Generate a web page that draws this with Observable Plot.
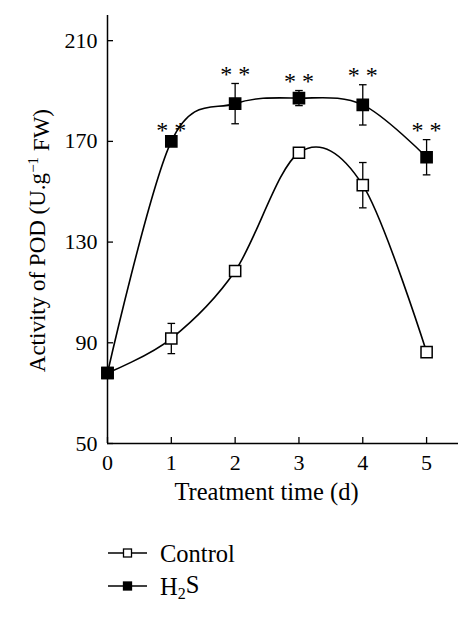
<!DOCTYPE html>
<html><head><meta charset="utf-8">
<script src="https://cdn.jsdelivr.net/npm/d3@7"></script>
<script src="https://cdn.jsdelivr.net/npm/@observablehq/plot@0.6"></script>
<style>
body{margin:0;background:#fff;font-family:"Liberation Serif","Times New Roman",serif;}
#chart svg{display:block;}
</style></head><body><div id="chart"></div>
<script>
const days = [0, 1, 2, 3, 4, 5];
const controlMean = [78, 91.7, 118.5, 165.5, 152.6, 86.3];
const controlErr = [1.2, 6, 1.5, 2, 9, 1];
const h2sMean = [78, 170, 185, 187.2, 184.5, 163.7];
const h2sErr = [1.2, 1, 8, 3, 8, 7];
const h2sSignif = ["", "**", "**", "**", "**", "**"];
const xTicks = [0, 1, 2, 3, 4, 5];
const yTicks = [50, 90, 130, 170, 210];
const xLabel = "Treatment time (d)";
const yLabelParts = ["Activity of POD (U.g", "\u22121", " FW)"];
const legendNames = ["Control", "H2S"];

const control = days.map((d, i) => ({day: d, mean: controlMean[i], err: controlErr[i]}));
const h2s = days.map((d, i) => ({day: d, mean: h2sMean[i], err: h2sErr[i], sig: h2sSignif[i]}));

const capSymbol = {draw(ctx, size) { const w = 3.8; ctx.moveTo(-w, 0); ctx.lineTo(w, 0); }};
const font = '"Liberation Serif","Times New Roman",serif';

function errMarks(data) {
  return [
    Plot.link(data, {x1: "day", x2: "day", y1: d => d.mean - d.err, y2: d => d.mean + d.err, stroke: "black", strokeWidth: 1.3}),
    Plot.dot(data, {x: "day", y: d => d.mean + d.err, symbol: capSymbol, r: 4, stroke: "black", strokeWidth: 1.3}),
    Plot.dot(data, {x: "day", y: d => d.mean - d.err, symbol: capSymbol, r: 4, stroke: "black", strokeWidth: 1.3})
  ];
}

const plot = Plot.plot({
  width: 474,
  height: 520,
  marginLeft: 107,
  marginRight: 16,
  marginTop: 15,
  marginBottom: 77,
  style: {fontFamily: font, color: "black", background: "white"},
  x: {domain: [0, 5.5]},
  y: {domain: [50, 220]},
  marks: [
    Plot.ruleX([0], {stroke: "black", strokeWidth: 1.5}),
    Plot.ruleY([50], {stroke: "black", strokeWidth: 1.5}),
    Plot.axisY(yTicks, {tickSize: -6, tickPadding: 16, fontSize: 22, label: null, strokeWidth: 1.3}),
    Plot.axisX(xTicks, {tickSize: -6, tickPadding: 17, fontSize: 22, label: null, strokeWidth: 1.3}),
    ...errMarks(control),
    ...errMarks(h2s),
    Plot.line(control, {x: "day", y: "mean", curve: "cardinal", tension: 0, stroke: "black", strokeWidth: 1.6}),
    Plot.line(h2s, {x: "day", y: "mean", curve: "cardinal", tension: 0, stroke: "black", strokeWidth: 1.6}),
    Plot.dot(control, {x: "day", y: "mean", symbol: "square", r: 6.3, fill: "white", stroke: "black", strokeWidth: 1.5}),
    Plot.dot(h2s, {x: "day", y: "mean", symbol: "square", r: 6.3, fill: "black", stroke: "black", strokeWidth: 1.5}),
    Plot.text(h2s.filter(d => d.sig), {x: "day", y: d => d.mean + d.err, text: d => d.sig.split("").join(" "), dy: -9, fontSize: 24, fill: "black"})
  ]
});
document.getElementById("chart").appendChild(plot);

const svg = d3.select(plot);
const xs = plot.scale("x"), ys = plot.scale("y");
svg.append("text")
  .attr("x", xs.apply(2.5)).attr("y", 500)
  .attr("text-anchor", "middle").attr("font-size", 24.5).attr("fill", "black")
  .text(xLabel);
const yl = svg.append("text")
  .attr("transform", `translate(45,${(ys.apply(50) + ys.apply(210)) / 2 - 1}) rotate(-90)`)
  .attr("text-anchor", "middle").attr("font-size", 23).attr("fill", "black");
yl.append("tspan").text(yLabelParts[0]);
yl.append("tspan").attr("dy", "-0.45em").attr("font-size", 15).text(yLabelParts[1]);
yl.append("tspan").attr("dy", "0.45em").text(yLabelParts[2]);

// legend below the plot
const leg = d3.select("#chart").append("svg").attr("width", 474).attr("height", 100)
  .style("font-family", font);
const rows = [{name: legendNames[0], fill: "white"}, {name: legendNames[1], fill: "black"}];
rows.forEach((r, i) => {
  const cy = 33 + i * 33;
  leg.append("line").attr("x1", 108).attr("x2", 147).attr("y1", cy).attr("y2", cy).attr("stroke", "black").attr("stroke-width", 1.5);
  leg.append("rect").attr("x", 123.5).attr("y", cy - 4).attr("width", 8).attr("height", 8).attr("fill", r.fill).attr("stroke", "black").attr("stroke-width", 1.3);
  const t = leg.append("text").attr("x", 160).attr("y", cy + 9).attr("font-size", 24.5).attr("fill", "black");
  if (r.name === "H2S") {
    t.append("tspan").text("H");
    t.append("tspan").attr("dy", "0.25em").attr("font-size", 16).text("2");
    t.append("tspan").attr("dy", "-0.25em").text("S");
  } else t.text(r.name);
});
</script></body></html>
